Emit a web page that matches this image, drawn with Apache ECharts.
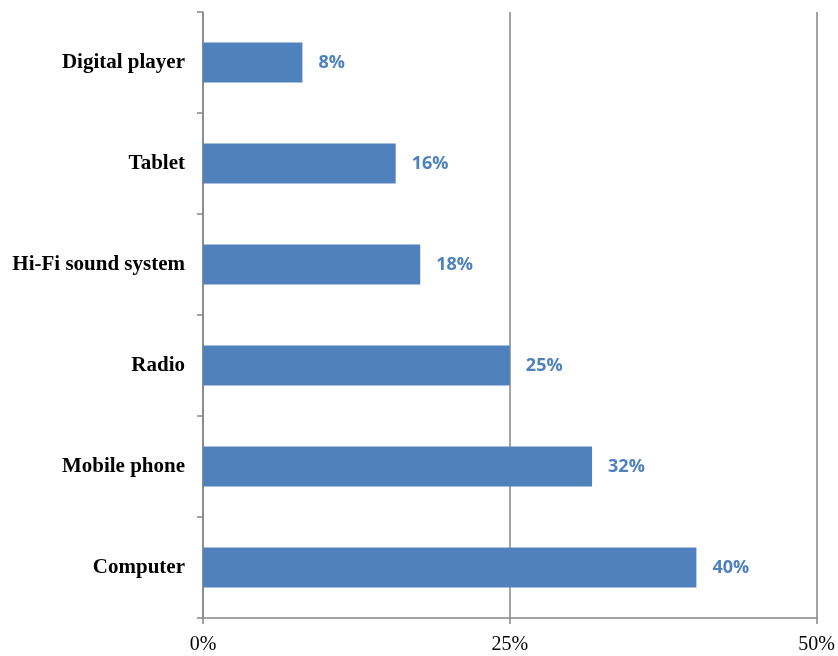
<!DOCTYPE html>
<html>
<head>
<meta charset="utf-8">
<script src="https://cdn.jsdelivr.net/npm/echarts@6/dist/echarts.min.js"></script>
<style>
  html, body { margin: 0; padding: 0; background: #fff; }
  #chart { width: 838px; height: 656px; }
</style>
</head>
<body>
<div id="chart"></div>
<script>
// devices share chart, bottom to top
var categories = ['Computer', 'Mobile phone', 'Radio', 'Hi-Fi sound system', 'Tablet', 'Digital player'];
var shares = [40.2, 31.7, 25, 17.7, 15.7, 8.1];
var xTicks = [0, 25, 50];

var chart = echarts.init(document.getElementById('chart'));
var option = {
    animation: false,
    grid: { left: 203, right: 21, top: 12, bottom: 38, containLabel: false },
    xAxis: {
        type: 'value',
        min: xTicks[0],
        max: xTicks[xTicks.length - 1],
        interval: 25,
        axisLine: { show: true, lineStyle: { color: '#868686', width: 1.5 } },
        axisTick: { show: true, length: 6, lineStyle: { color: '#868686', width: 1.5 } },
        splitLine: { show: true, lineStyle: { color: '#868686', width: 1.5 } },
        axisLabel: {
            formatter: '{value}%',
            fontFamily: 'Liberation Serif',
            fontSize: 20,
            color: '#000',
            margin: 17
        }
    },
    yAxis: {
        type: 'category',
        data: categories,
        axisLine: { show: true, lineStyle: { color: '#868686', width: 1.5 } },
        axisTick: { show: true, length: 6, alignWithLabel: false, lineStyle: { color: '#868686', width: 1.5 } },
        axisLabel: {
            fontFamily: 'Liberation Serif',
            fontWeight: 'bold',
            fontSize: 21,
            color: '#000',
            margin: 18,
            padding: [4, 0, 0, 0]
        }
    },
    series: [{
        type: 'bar',
        data: shares,
        barWidth: 40,
        itemStyle: { color: '#4F81BD' },
        label: {
            show: true,
            position: 'right',
            distance: 16,
            padding: [4, 0, 0, 0],
            formatter: function (p) { return Math.round(p.value) + '%'; },
            fontFamily: 'Open Sans',
            fontWeight: 'bold',
            fontSize: 18,
            color: '#4F81BD'
        }
    }]
};
chart.setOption(option);
</script>
</body>
</html>
